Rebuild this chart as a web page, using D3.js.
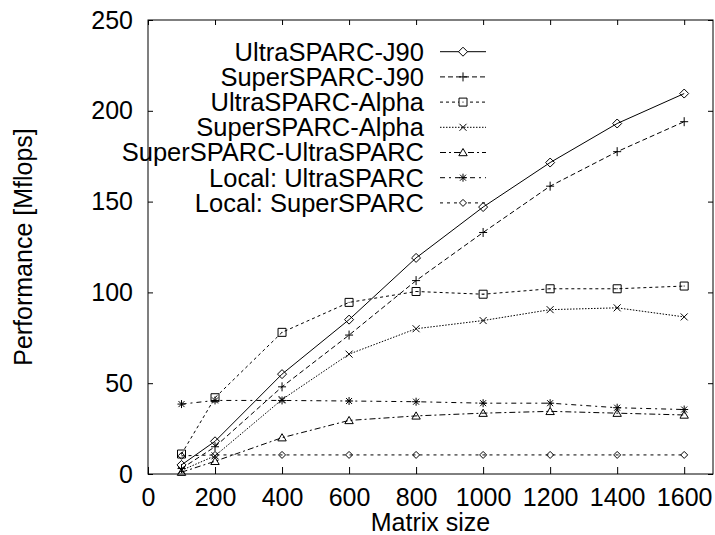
<html>
<head>
<style>
  body { margin: 0; background: #fff; }
  svg { font-family: "Liberation Sans", Arial, Helvetica, sans-serif; }
</style>
<script src="https://cdn.jsdelivr.net/npm/d3@7"></script>
</head>
<body>
<svg id="grafico"></svg>
<script>
// matrix sizes on the x axis
const tamanos = [100, 200, 400, 600, 800, 1000, 1200, 1400, 1600];

// performance in Mflops, one array per configuration
const ultraJ90     = [5, 18, 55, 85, 119, 147, 171.5, 193, 209.5];
const superJ90     = [3, 15, 48, 76.5, 106.5, 133, 158.5, 177.5, 194];
const ultraAlpha   = [11, 42, 78, 94.5, 100.5, 99, 102, 102, 103.5];
const superAlpha   = [2, 10, 41, 66, 80, 84.5, 90.5, 91.5, 86.5];
const superUltra   = [1, 7, 20, 29.5, 32, 33.5, 34.5, 33.5, 32.5];
const localUltra   = [38.5, 40.5, 40.5, 40.2, 39.8, 39, 39, 36.5, 35.5];
const localSuper   = [10, 10.5, 10.5, 10.5, 10.5, 10.5, 10.5, 10.5, 10.5];

const nombres = ["UltraSPARC-J90", "SuperSPARC-J90", "UltraSPARC-Alpha", "SuperSPARC-Alpha",
                 "SuperSPARC-UltraSPARC", "Local: UltraSPARC", "Local: SuperSPARC"];

const xTicks = [0, 200, 400, 600, 800, 1000, 1200, 1400, 1600];
const yTicks = [0, 50, 100, 150, 200, 250];

const series = [
  { nombre: nombres[0], valores: ultraJ90,   dash: null,          marca: "diamond" },
  { nombre: nombres[1], valores: superJ90,   dash: "5,3",         marca: "plus" },
  { nombre: nombres[2], valores: ultraAlpha, dash: "3,3",         marca: "square" },
  { nombre: nombres[3], valores: superAlpha, dash: "1.5,1.5",     marca: "times" },
  { nombre: nombres[4], valores: superUltra, dash: "6,3,2,3",     marca: "triangle" },
  { nombre: nombres[5], valores: localUltra, dash: "5,4,2,4",     marca: "asterisk" },
  { nombre: nombres[6], valores: localSuper, dash: "3,4",         marca: "smalldiamond" }
];

const ancho = 715, alto = 535;
const margenes = { top: 20, bottom: 61, left: 148, right: 2 };
const letra = 25;

const svg = d3.select("#grafico").attr("width", ancho).attr("height", alto);

const x = d3.scaleLinear().domain([0, 1686]).range([margenes.left, ancho - margenes.right]);
const y = d3.scaleLinear().domain([0, 250]).range([alto - margenes.bottom, margenes.top]);

// marker paths centred on 0,0
function marcaPath(tipo) {
  switch (tipo) {
    case "diamond": return "M0,-4.5L4.5,0L0,4.5L-4.5,0Z";
    case "smalldiamond": return "M0,-3.5L3.5,0L0,3.5L-3.5,0Z";
    case "plus": return "M-4,0H4M0,-4.5V4.5";
    case "square": return "M-4,-4H4V4H-4Z M-0.5,0H0.5";
    case "times": return "M-3.5,-3.5L3.5,3.5M-3.5,3.5L3.5,-3.5";
    case "triangle": return "M0,-4L4.2,3.2H-4.2Z";
    case "asterisk": return "M-4,0H4M0,-4V4M-3,-3L3,3M-3,3L3,-3";
  }
}

// axes with inward ticks on all four sides
const ejeX = svg.append("g")
  .attr("transform", `translate(0,${y(0)})`)
  .call(d3.axisBottom(x).tickValues(xTicks).tickFormat(d3.format("d"))
    .tickSizeInner(-7).tickSizeOuter(0).tickPadding(14));
svg.append("g")
  .attr("transform", `translate(0,${y(250)})`)
  .call(d3.axisTop(x).tickValues(xTicks).tickSizeInner(-5).tickSizeOuter(0).tickFormat(""));
const ejeY = svg.append("g")
  .attr("transform", `translate(${x(0)},0)`)
  .call(d3.axisLeft(y).tickValues(yTicks).tickSizeInner(-5).tickSizeOuter(0).tickPadding(15));
svg.append("g")
  .attr("transform", `translate(${ancho - margenes.right},0)`)
  .call(d3.axisRight(y).tickValues(yTicks).tickSizeInner(-5).tickSizeOuter(0).tickFormat(""));

svg.selectAll(".domain").remove();
svg.selectAll(".tick line").attr("stroke", "#000");
svg.selectAll(".tick text").attr("font-size", letra).attr("fill", "#000")
  .attr("font-family", "\"Liberation Sans\", Arial, sans-serif");
ejeX.selectAll(".tick text").attr("dy", "0.71em");

svg.append("rect")
  .attr("x", x(0)).attr("y", y(250))
  .attr("width", ancho - margenes.right - x(0)).attr("height", y(0) - y(250))
  .attr("fill", "none").attr("stroke", "#000").attr("stroke-width", 1);

// titles
svg.append("text")
  .attr("x", (x(0) + ancho - margenes.right) / 2).attr("y", 531)
  .attr("text-anchor", "middle").attr("font-size", letra)
  .text("Matrix size");
svg.append("text")
  .attr("transform", `translate(32,${(y(0) + y(250)) / 2}) rotate(-90)`)
  .attr("text-anchor", "middle").attr("font-size", letra)
  .text("Performance [Mflops]");

// lines and markers
const linea = d3.line().x((d, i) => x(tamanos[i])).y(d => y(d));

series.forEach(s => {
  svg.append("path")
    .attr("d", linea(s.valores))
    .attr("fill", "none").attr("stroke", "#000").attr("stroke-width", 1)
    .attr("stroke-dasharray", s.dash);
  svg.selectAll(null).data(s.valores).enter().append("path")
    .attr("transform", (d, i) => `translate(${x(tamanos[i])},${y(d)})`)
    .attr("d", marcaPath(s.marca))
    .attr("fill", "none").attr("stroke", "#000").attr("stroke-width", 1);
});

// legend
const leyenda = svg.append("g");
series.forEach((s, i) => {
  const fy = 51.7 + i * 25.2;
  leyenda.append("text")
    .attr("x", 424).attr("y", fy).attr("dy", "0.35em")
    .attr("text-anchor", "end").attr("font-size", 25.5)
    .text(s.nombre);
  leyenda.append("line")
    .attr("x1", 440).attr("x2", 486).attr("y1", fy).attr("y2", fy)
    .attr("stroke", "#000").attr("stroke-width", 1)
    .attr("stroke-dasharray", s.dash);
  leyenda.append("path")
    .attr("transform", `translate(463,${fy})`)
    .attr("d", marcaPath(s.marca))
    .attr("fill", "#fff").attr("stroke", "#000").attr("stroke-width", 1);
});
</script>
</body>
</html>
